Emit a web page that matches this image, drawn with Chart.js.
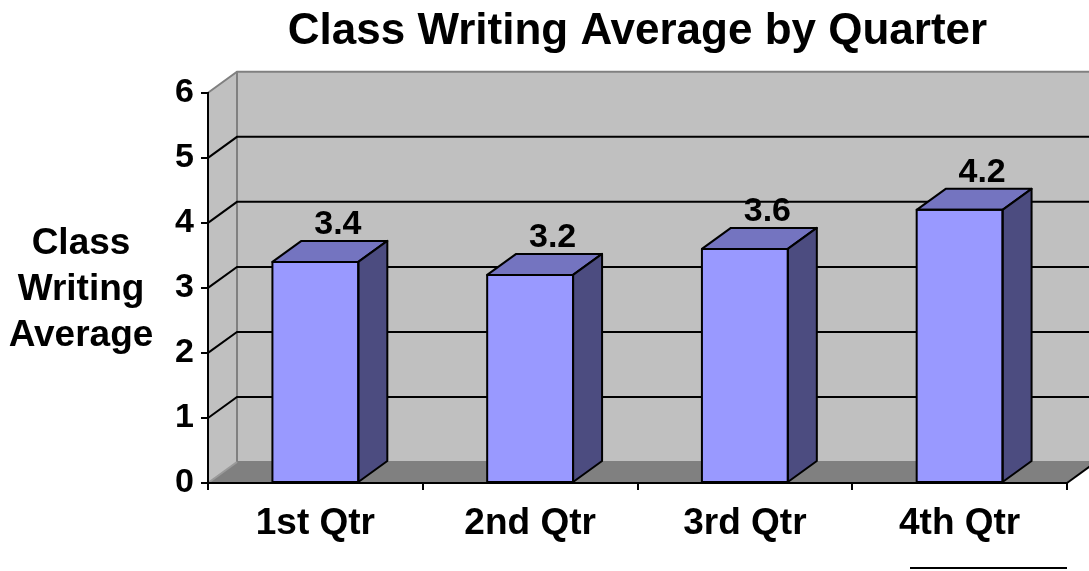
<!DOCTYPE html>
<html>
<head>
<meta charset="utf-8">
<title>Class Writing Average by Quarter</title>
<script src="https://cdn.jsdelivr.net/npm/chart.js@4.4.1/dist/chart.umd.min.js"></script>
<style>
  html, body { margin: 0; padding: 0; background: #ffffff; }
  #grafico { display: block; }
</style>
</head>
<body>
<canvas id="grafico" width="1089" height="571"></canvas>
<script>
// --- DADOS DO GRÁFICO ---
const categorias = ['1st Qtr', '2nd Qtr', '3rd Qtr', '4th Qtr'];
const medias = [3.4, 3.2, 3.6, 4.2];
const ticksY = [0, 1, 2, 3, 4, 5, 6];
const tituloEixoY = ['Class', 'Writing', 'Average'];
const tituloGrafico = 'Class Writing Average by Quarter';

// --- ESTILO ---
const FONTE = 'Arial, "Liberation Sans", Helvetica, sans-serif';
const PROF_X = 29;   // profundidade 3D (horizontal)
const PROF_Y = 21;   // profundidade 3D (vertical)
const COR_FRENTE = '#9999FF';
const COR_TOPO = '#7474C0';
const COR_LADO = '#4C4C80';
const COR_PAREDE = '#C0C0C0';
const COR_CHAO = '#808080';
const ESPESSURA = 2;

// Paredes, chão e linhas de grade "3D" desenhadas antes de tudo
const paredes3d = {
    id: 'paredes3d',
    beforeDraw(chart) {
        const ctx = chart.ctx;
        const a = chart.chartArea;
        const y = chart.scales.y;
        ctx.save();

        // parede do fundo
        ctx.fillStyle = COR_PAREDE;
        ctx.fillRect(a.left + PROF_X, a.top - PROF_Y, a.right - a.left + 40, a.bottom - a.top);

        // parede lateral esquerda
        ctx.beginPath();
        ctx.moveTo(a.left, a.bottom);
        ctx.lineTo(a.left, a.top);
        ctx.lineTo(a.left + PROF_X, a.top - PROF_Y);
        ctx.lineTo(a.left + PROF_X, a.bottom - PROF_Y);
        ctx.closePath();
        ctx.fill();

        // chão
        ctx.fillStyle = COR_CHAO;
        ctx.beginPath();
        ctx.moveTo(a.left, a.bottom);
        ctx.lineTo(a.right, a.bottom);
        ctx.lineTo(a.right + PROF_X, a.bottom - PROF_Y);
        ctx.lineTo(a.left + PROF_X, a.bottom - PROF_Y);
        ctx.closePath();
        ctx.fill();

        // contornos cinzentos
        ctx.strokeStyle = '#808080';
        ctx.lineWidth = ESPESSURA;
        ctx.beginPath();
        ctx.moveTo(a.left, a.top);
        ctx.lineTo(a.left + PROF_X, a.top - PROF_Y);
        ctx.lineTo(a.right + 60, a.top - PROF_Y);
        ctx.moveTo(a.left + PROF_X, a.top - PROF_Y);
        ctx.lineTo(a.left + PROF_X, a.bottom - PROF_Y);
        ctx.lineTo(a.right + 60, a.bottom - PROF_Y);
        ctx.stroke();
        ctx.strokeStyle = '#9a9a9a';
        ctx.beginPath();
        ctx.moveTo(a.left, a.bottom);
        ctx.lineTo(a.left + PROF_X, a.bottom - PROF_Y);
        ctx.stroke();

        // borda direita do chão
        ctx.strokeStyle = '#000000';
        ctx.beginPath();
        ctx.moveTo(a.right, a.bottom);
        ctx.lineTo(a.right + PROF_X, a.bottom - PROF_Y);
        ctx.stroke();

        // linhas de grade (parede lateral + fundo)
        ctx.strokeStyle = '#000000';
        ctx.lineWidth = ESPESSURA;
        ticksY.forEach(v => {
            if (v === ticksY[0] || v === ticksY[ticksY.length - 1]) return;
            const py = y.getPixelForValue(v);
            ctx.beginPath();
            ctx.moveTo(a.left, py);
            ctx.lineTo(a.left + PROF_X, py - PROF_Y);
            ctx.lineTo(a.right + 60, py - PROF_Y);
            ctx.stroke();
        });

        ctx.restore();
    },
    afterDraw(chart) {
        // linha solta no canto inferior direito
        const ctx = chart.ctx;
        const a = chart.chartArea;
        ctx.save();
        ctx.strokeStyle = '#000000';
        ctx.lineWidth = ESPESSURA;
        ctx.beginPath();
        ctx.moveTo(a.right - 157, 568);
        ctx.lineTo(a.right, 568);
        ctx.stroke();

        // título do eixo Y, na horizontal
        ctx.fillStyle = '#000000';
        ctx.font = 'bold 37px ' + FONTE;
        ctx.textAlign = 'center';
        ctx.textBaseline = 'alphabetic';
        tituloEixoY.forEach((linha, i) => {
            ctx.fillText(linha, 81, 254 + i * 46);
        });
        ctx.restore();
    }
};

// Faces de topo e lateral das barras + rótulos de valores
const barras3d = {
    id: 'barras3d',
    afterDatasetsDraw(chart) {
        const ctx = chart.ctx;
        const meta = chart.getDatasetMeta(0);
        ctx.save();
        ctx.strokeStyle = '#000000';
        ctx.lineWidth = ESPESSURA;
        ctx.lineJoin = 'round';
        meta.data.forEach((bar, i) => {
            const p = bar.getProps(['x', 'y', 'base', 'width'], true);
            const esq = p.x - p.width / 2;
            const dir = p.x + p.width / 2;

            // topo
            ctx.fillStyle = COR_TOPO;
            ctx.beginPath();
            ctx.moveTo(esq, p.y);
            ctx.lineTo(esq + PROF_X, p.y - PROF_Y);
            ctx.lineTo(dir + PROF_X, p.y - PROF_Y);
            ctx.lineTo(dir, p.y);
            ctx.closePath();
            ctx.fill();
            ctx.stroke();

            // lateral
            ctx.fillStyle = COR_LADO;
            ctx.beginPath();
            ctx.moveTo(dir, p.y);
            ctx.lineTo(dir + PROF_X, p.y - PROF_Y);
            ctx.lineTo(dir + PROF_X, p.base - PROF_Y);
            ctx.lineTo(dir, p.base);
            ctx.closePath();
            ctx.fill();
            ctx.stroke();

            // contorno da face frontal
            ctx.strokeRect(esq, p.y, p.width, p.base - p.y);

            // rótulo
            ctx.fillStyle = '#000000';
            ctx.font = 'bold 34px ' + FONTE;
            ctx.textAlign = 'center';
            ctx.textBaseline = 'alphabetic';
            ctx.fillText(String(medias[i]), p.x + PROF_X / 2 + 8, p.y - PROF_Y - 7);
        });
        ctx.restore();
    }
};

const ctx = document.getElementById('grafico').getContext('2d');
new Chart(ctx, {
    type: 'bar',
    data: {
        labels: categorias,
        datasets: [{
            data: medias,
            backgroundColor: COR_FRENTE,
            borderColor: '#000000',
            borderWidth: 0,
            categoryPercentage: 1,
            barPercentage: 0.4
        }]
    },
    options: {
        responsive: false,
        animation: false,
        devicePixelRatio: 1,
        layout: { padding: { left: 0, right: 22, top: 0, bottom: 0 } },
        plugins: {
            legend: { display: false },
            tooltip: { enabled: false },
            title: {
                display: true,
                text: tituloGrafico,
                fullSize: false,
                color: '#000000',
                font: { family: FONTE, size: 44, weight: 'bold' },
                padding: { top: 5, bottom: 35 }
            }
        },
        scales: {
            x: {
                type: 'category',
                offset: true,
                grid: { display: true, drawOnChartArea: false, drawTicks: true, tickLength: 7, color: '#000000', lineWidth: ESPESSURA, offset: true },
                border: { display: true, color: '#000000', width: ESPESSURA },
                ticks: { color: '#000000', font: { family: FONTE, size: 37, weight: 'bold' }, padding: 12, maxRotation: 0, autoSkip: false },
                afterFit(scale) { scale.height = 88; }
            },
            y: {
                min: ticksY[0],
                max: ticksY[ticksY.length - 1],
                afterBuildTicks(scale) { scale.ticks = ticksY.map(v => ({ value: v })); },
                grid: { display: true, drawOnChartArea: false, drawTicks: true, tickLength: 7, color: '#000000', lineWidth: ESPESSURA },
                border: { display: true, color: '#000000', width: ESPESSURA },
                ticks: { color: '#000000', font: { family: FONTE, size: 34, weight: 'bold' }, padding: 7 },
                afterFit(scale) { scale.width = 208; }
            }
        }
    },
    plugins: [paredes3d, barras3d]
});
</script>
</body>
</html>
